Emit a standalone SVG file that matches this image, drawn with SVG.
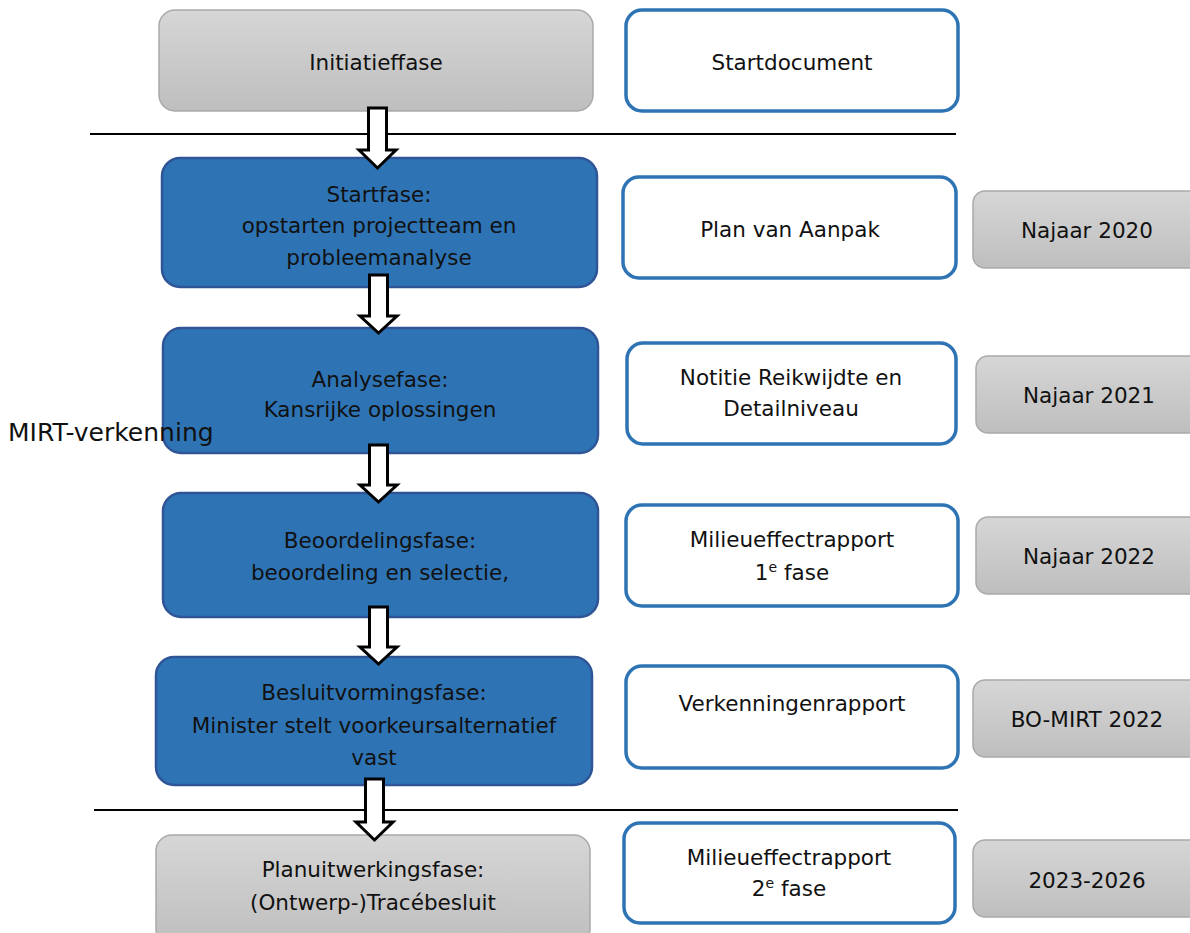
<svg xmlns="http://www.w3.org/2000/svg" width="1190" height="933" viewBox="0 0 1190 933">
<defs>
<linearGradient id="g" x1="0" y1="0" x2="0" y2="1"><stop offset="0" stop-color="#d6d6d6"/><stop offset="1" stop-color="#bebebe"/></linearGradient>
<style>
.grey{fill:url(#g);stroke:#a9a9a9;stroke-width:1.5}
.blue{fill:#2e74b5;stroke:#2f5597;stroke-width:2.5}
.doc{fill:#fff;stroke:#2e74b5;stroke-width:3.5}
text{font-family:"DejaVu Sans","Verdana",sans-serif;font-size:21.5px;fill:#111;text-anchor:middle}
.arr{fill:#fff;stroke:#000;stroke-width:3;stroke-linejoin:miter}
.sep{stroke:#000;stroke-width:2}
</style>
</defs>
<g id="initiatief"><rect class="grey" x="159" y="10" width="434" height="101" rx="16"/><text x="376" y="70">Initiatieffase</text></g>
<g id="startdocument"><rect class="doc" x="626" y="10" width="332" height="101" rx="16"/><text x="792" y="70">Startdocument</text></g>
<g id="startfase"><rect class="blue" x="162" y="158" width="435" height="129" rx="18"/><text x="379" y="202">Startfase:</text><text x="379" y="233">opstarten projectteam en</text><text x="379" y="265">probleemanalyse</text></g>
<g id="pva"><rect class="doc" x="623" y="177" width="333" height="101" rx="16"/><text x="790" y="237">Plan van Aanpak</text></g>
<g id="najaar2020"><rect class="grey" x="973" y="191" width="230" height="77" rx="12"/><text x="1087" y="238">Najaar 2020</text></g>
<g id="analysefase"><rect class="blue" x="163" y="328" width="435" height="125" rx="18"/><text x="380" y="387">Analysefase:</text><text x="380" y="417">Kansrijke oplossingen</text></g>
<g id="nrd"><rect class="doc" x="627" y="343" width="329" height="101" rx="16"/><text x="791" y="385">Notitie Reikwijdte en</text><text x="791" y="416">Detailniveau</text></g>
<g id="najaar2021"><rect class="grey" x="976" y="356" width="230" height="77" rx="12"/><text x="1089" y="403">Najaar 2021</text></g>
<g id="mirt"><text x="8" y="441" style="text-anchor:start;font-size:25px">MIRT-verkenning</text></g>
<g id="beoordelingsfase"><rect class="blue" x="163" y="493" width="435" height="124" rx="18"/><text x="380" y="548">Beoordelingsfase:</text><text x="380" y="580">beoordeling en selectie,</text></g>
<g id="mer1"><rect class="doc" x="626" y="505" width="332" height="101" rx="16"/><text x="792" y="547">Milieueffectrapport</text><text x="792" y="580">1<tspan dy="-8" font-size="14">e</tspan><tspan dy="8"> fase</tspan></text></g>
<g id="najaar2022"><rect class="grey" x="976" y="517" width="230" height="77" rx="12"/><text x="1089" y="564">Najaar 2022</text></g>
<g id="besluitvormingsfase"><rect class="blue" x="156" y="657" width="436" height="128" rx="18"/><text x="374" y="700">Besluitvormingsfase:</text><text x="374" y="733">Minister stelt voorkeursalternatief</text><text x="374" y="765">vast</text></g>
<g id="verkenningenrapport"><rect class="doc" x="626" y="666" width="332" height="102" rx="16"/><text x="792" y="711">Verkenningenrapport</text></g>
<g id="bomirt"><rect class="grey" x="973" y="680" width="230" height="77" rx="12"/><text x="1087" y="727">BO-MIRT 2022</text></g>
<g id="planuitwerkingsfase"><rect class="grey" x="156" y="835" width="434" height="110" rx="16"/><text x="373" y="877">Planuitwerkingsfase:</text><text x="373" y="910">(Ontwerp-)Tracébesluit</text></g>
<g id="mer2"><rect class="doc" x="624" y="823" width="331" height="100" rx="16"/><text x="789" y="865">Milieueffectrapport</text><text x="789" y="896">2<tspan dy="-8" font-size="14">e</tspan><tspan dy="8"> fase</tspan></text></g>
<g id="jaren"><rect class="grey" x="973" y="840" width="230" height="77" rx="12"/><text x="1087" y="888">2023-2026</text></g>
<g id="connectors">
<line class="sep" x1="90" y1="134" x2="956" y2="134"/>
<line class="sep" x1="94" y1="810" x2="958" y2="810"/>
<path class="arr" d="M368.5,108 H386.5 V150 H396 L377.5,168 L359,150 H368.5 Z"/>
<path class="arr" d="M369.5,275 H387.5 V316 H397 L378.5,333 L360,316 H369.5 Z"/>
<path class="arr" d="M369.5,445 H387.5 V485 H397 L378.5,502 L360,485 H369.5 Z"/>
<path class="arr" d="M369.5,607 H387.5 V647 H397 L378.5,664 L360,647 H369.5 Z"/>
<path class="arr" d="M365.5,779 H383.5 V822 H393 L374.5,840 L356,822 H365.5 Z"/>
</g>
</svg>
